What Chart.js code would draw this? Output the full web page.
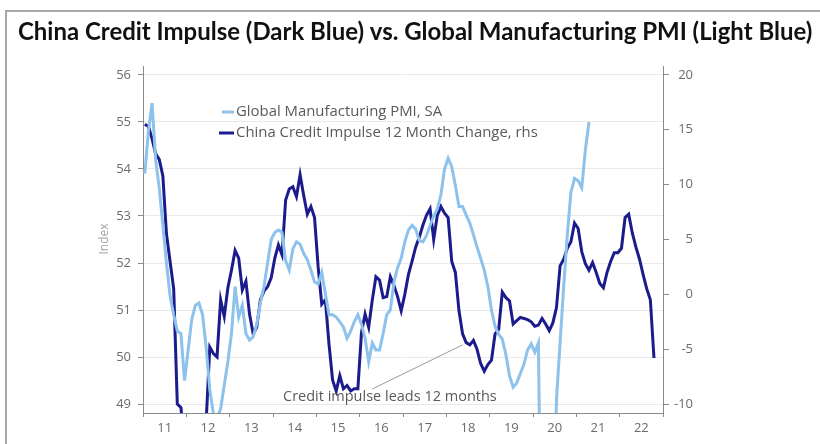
<!DOCTYPE html>
<html><head><meta charset="utf-8">
<script src="https://cdn.jsdelivr.net/npm/chart.js@4.4.1/dist/chart.umd.min.js"></script>
<style>
html,body{margin:0;padding:0;background:#fff;}
#wrap{position:relative;width:820px;height:444px;overflow:hidden;background:#fff;}
#frame{position:absolute;left:5px;top:10px;width:900px;height:500px;border-top:2px solid #a8a8a8;border-left:2px solid #a8a8a8;}
canvas{position:absolute;left:0;top:0;}
</style></head><body>
<div id="wrap"><div id="frame"></div><canvas id="c" width="820" height="444"></canvas></div>
<script>
const chartTitle = "China Credit Impulse (Dark Blue) vs. Global Manufacturing PMI (Light Blue)";
const yearLabels = ["11","12","13","14","15","16","17","18","19","20","21","22"];
const pmiLabel = "Global Manufacturing PMI, SA";
const impulseLabel = "China Credit Impulse 12 Month Change, rhs";
const leftAxisTitle = "Index";
const annotationText = "Credit impulse leads 12 months";
const leftTicks = [49,50,51,52,53,54,55,56];
const rightTicks = [-10,-5,0,5,10,15,20];

// monthly, starting Jan 2011
const pmiValues = [
53.9,54.8,55.4,54.2,53.6,52.8,52.0,51.3,50.9,50.55,50.5,49.5,
50.15,50.8,51.1,51.15,50.9,50.2,49.3,48.8,48.7,48.9,49.4,49.9,
50.5,51.5,50.85,51.1,50.5,50.36,50.43,50.7,51.15,51.5,52.0,52.5,
52.65,52.7,52.65,52.05,51.85,52.3,52.45,52.4,52.2,52.07,51.85,51.6,
51.55,51.8,51.35,50.9,50.9,50.85,50.75,50.64,50.4,50.55,50.75,50.9,
50.7,50.4,49.9,50.3,50.15,50.15,50.5,50.9,51.0,51.6,51.9,52.1,
52.45,52.7,52.8,52.72,52.48,52.45,52.58,52.8,53.0,53.15,53.45,54.0,
54.23,54.05,53.65,53.2,53.2,53.02,52.85,52.6,52.34,52.1,51.85,51.5,
51.0,50.65,50.48,50.38,50.05,49.6,49.36,49.45,49.65,49.85,50.15,50.28,
50.1,50.3,44.0,41.0,42.0,45.0,49.1,50.3,51.5,52.6,53.5,53.8,
53.75,53.6,54.4,55.0
];
const impulseValues = [
15.5,15.3,14.2,12.8,12.3,10.8,5.5,3.0,0.5,-10.0,-10.3,-14,
-16,-17,-17,-16,-14,-11.5,-4.8,-5.4,-5.7,-0.5,-2.0,0.6,
2.2,4.0,3.3,0.4,1.2,-1.8,-3.6,-3.0,-0.5,0.3,0.7,1.5,
3.3,4.5,3.6,8.6,9.6,9.8,8.9,10.9,9.0,7.3,8.0,7.0,
2.5,-0.9,-0.5,-4.5,-7.8,-8.8,-7.4,-8.6,-8.3,-8.8,-8.6,-8.6,
-3.5,-1.8,-3.0,-0.5,1.6,1.3,-0.3,-0.2,1.6,0.8,-0.2,-1.5,
0.0,1.8,3.0,4.3,5.2,6.3,7.2,7.8,5.0,7.2,8.0,7.4,
7.0,3.0,2.0,-1.5,-3.6,-4.4,-4.6,-4.2,-5.0,-6.3,-7.0,-6.4,
-6.0,-3.6,-3.2,0.2,-0.3,-0.6,-2.7,-2.4,-2.1,-2.2,-2.3,-2.5,
-2.9,-2.8,-2.2,-2.7,-3.3,-2.6,-1.2,2.6,3.2,4.2,4.8,6.5,
6.0,3.9,2.8,2.2,2.9,2.0,1.0,0.6,2.0,3.0,3.8,3.8,
4.2,7.0,7.3,5.6,4.3,3.2,1.8,0.5,-0.5,-5.8
];
// annotation anchor (month index, value on rhs) and label anchor (month index, value on lhs)
const annotationTarget = {month: 88, value: -4.6};
const annotationStart = {month: 63, value: 49.32};

const LIGHT = '#8cc2ec', DARK = '#1b1b8e', TICK = '#6b6b6b', AXIS = '#8a8a8a';
const toPoints = arr => arr.map((v,i)=>({x:i+0.5, y:v}));

function fitFont(ctx, text, weight, family, target, base){
  ctx.font = `${weight} ${base}px ${family}`;
  const w = ctx.measureText(text).width;
  return base*target/w;
}

const overlay = {
  id:'overlay',
  afterDraw(chart){
    const ctx = chart.ctx;
    ctx.save();
    // title
    const ts = fitFont(ctx, chartTitle, 'bold', 'Lato', 795, 20);
    ctx.font = `bold ${ts}px Lato`;
    ctx.fillStyle = '#111';
    ctx.textAlign='left'; ctx.textBaseline='alphabetic';
    ctx.fillText(chartTitle, 18, 40);
    // legend
    const ls = fitFont(ctx, impulseLabel, 'normal', '"Open Sans"', 302, 13);
    ctx.font = `${ls}px "Open Sans"`;
    ctx.fillStyle = '#5a5a5a';
    ctx.textBaseline='middle';
    ctx.lineWidth = 3;
    ctx.strokeStyle = LIGHT;
    ctx.beginPath(); ctx.moveTo(222,112); ctx.lineTo(234,112); ctx.stroke();
    ctx.fillText(pmiLabel, 236, 112);
    ctx.strokeStyle = DARK;
    ctx.beginPath(); ctx.moveTo(219,133); ctx.lineTo(234,133); ctx.stroke();
    ctx.fillText(impulseLabel, 236, 133);
    // left axis title
    ctx.save();
    ctx.translate(105, 239);
    ctx.rotate(-Math.PI/2);
    ctx.font = '12px "Open Sans"';
    ctx.fillStyle = '#a3a3a3';
    ctx.textAlign='center';
    ctx.fillText(leftAxisTitle, 0, 0);
    ctx.restore();
    // annotation
    const xs = chart.scales.x, yl = chart.scales.y, yr = chart.scales.y1;
    const x1 = xs.getPixelForValue(annotationStart.month+0.5), y1 = yl.getPixelForValue(annotationStart.value);
    const x2 = xs.getPixelForValue(annotationTarget.month+0.5), y2 = yr.getPixelForValue(annotationTarget.value);
    ctx.strokeStyle = '#9a9a9a'; ctx.lineWidth = 1;
    ctx.beginPath(); ctx.moveTo(x1,y1); ctx.lineTo(x2,y2); ctx.stroke();
    const as = fitFont(ctx, annotationText, 'normal', '"Open Sans"', 214, 13);
    ctx.font = `${as}px "Open Sans"`;
    ctx.fillStyle = '#5a5a5a';
    ctx.textAlign='left';
    ctx.fillText(annotationText, 283, 397);
    ctx.restore();
  }
};

new Chart(document.getElementById('c'), {
  type:'line',
  data:{
    datasets:[
      {label:pmiLabel, data:toPoints(pmiValues), yAxisID:'y', borderColor:LIGHT, borderWidth:3, pointRadius:0, tension:0, clip:0},
      {label:impulseLabel, data:toPoints(impulseValues), yAxisID:'y1', borderColor:DARK, borderWidth:3, pointRadius:0, tension:0, clip:0}
    ]
  },
  options:{
    responsive:false, animation:false, events:[],
    layout:{padding:{top:66,left:0,right:127,bottom:0}},
    plugins:{legend:{display:false}, title:{display:false}, tooltip:{enabled:false}},
    scales:{
      x:{type:'linear', min:0, max:144,
        afterBuildTicks(s){ const t=[]; for(let v=0; v<=144; v+=6) t.push({value:v}); s.ticks=t; },
        afterFit(s){ s.height = 31; },
        border:{display:true, color:AXIS, width:1},
        grid:{drawOnChartArea:false, tickLength:4,
          tickColor:(c)=> (c.tick && c.tick.value%12===0) ? AXIS : 'rgba(0,0,0,0)'},
        ticks:{autoSkip:false, maxRotation:0, padding:3, color:TICK, font:{family:'"Open Sans"', size:13},
          callback:(v)=> (v%12===6) ? yearLabels[(v-6)/12] : ''}
      },
      y:{type:'linear', position:'left', min:48.81, max:56.19,
        afterBuildTicks(s){ s.ticks = leftTicks.map(v=>({value:v})); },
        afterFit(s){ s.width = 143; },
        border:{display:true, color:AXIS, width:1},
        grid:{color:'#e9e9e9', lineWidth:1, tickColor:AXIS, tickLength:5},
        ticks:{padding:7, color:TICK, font:{family:'"Open Sans"', size:13}}
      },
      y1:{type:'linear', position:'right', min:-10.81, max:20.81,
        afterBuildTicks(s){ s.ticks = rightTicks.map(v=>({value:v})); },
        afterFit(s){ s.width = 30; },
        border:{display:true, color:AXIS, width:1},
        grid:{drawOnChartArea:false, tickColor:AXIS, tickLength:6},
        ticks:{crossAlign:'far', color:TICK, font:{family:'"Open Sans"', size:13}}
      }
    }
  },
  plugins:[overlay]
});
</script>
</body></html>
